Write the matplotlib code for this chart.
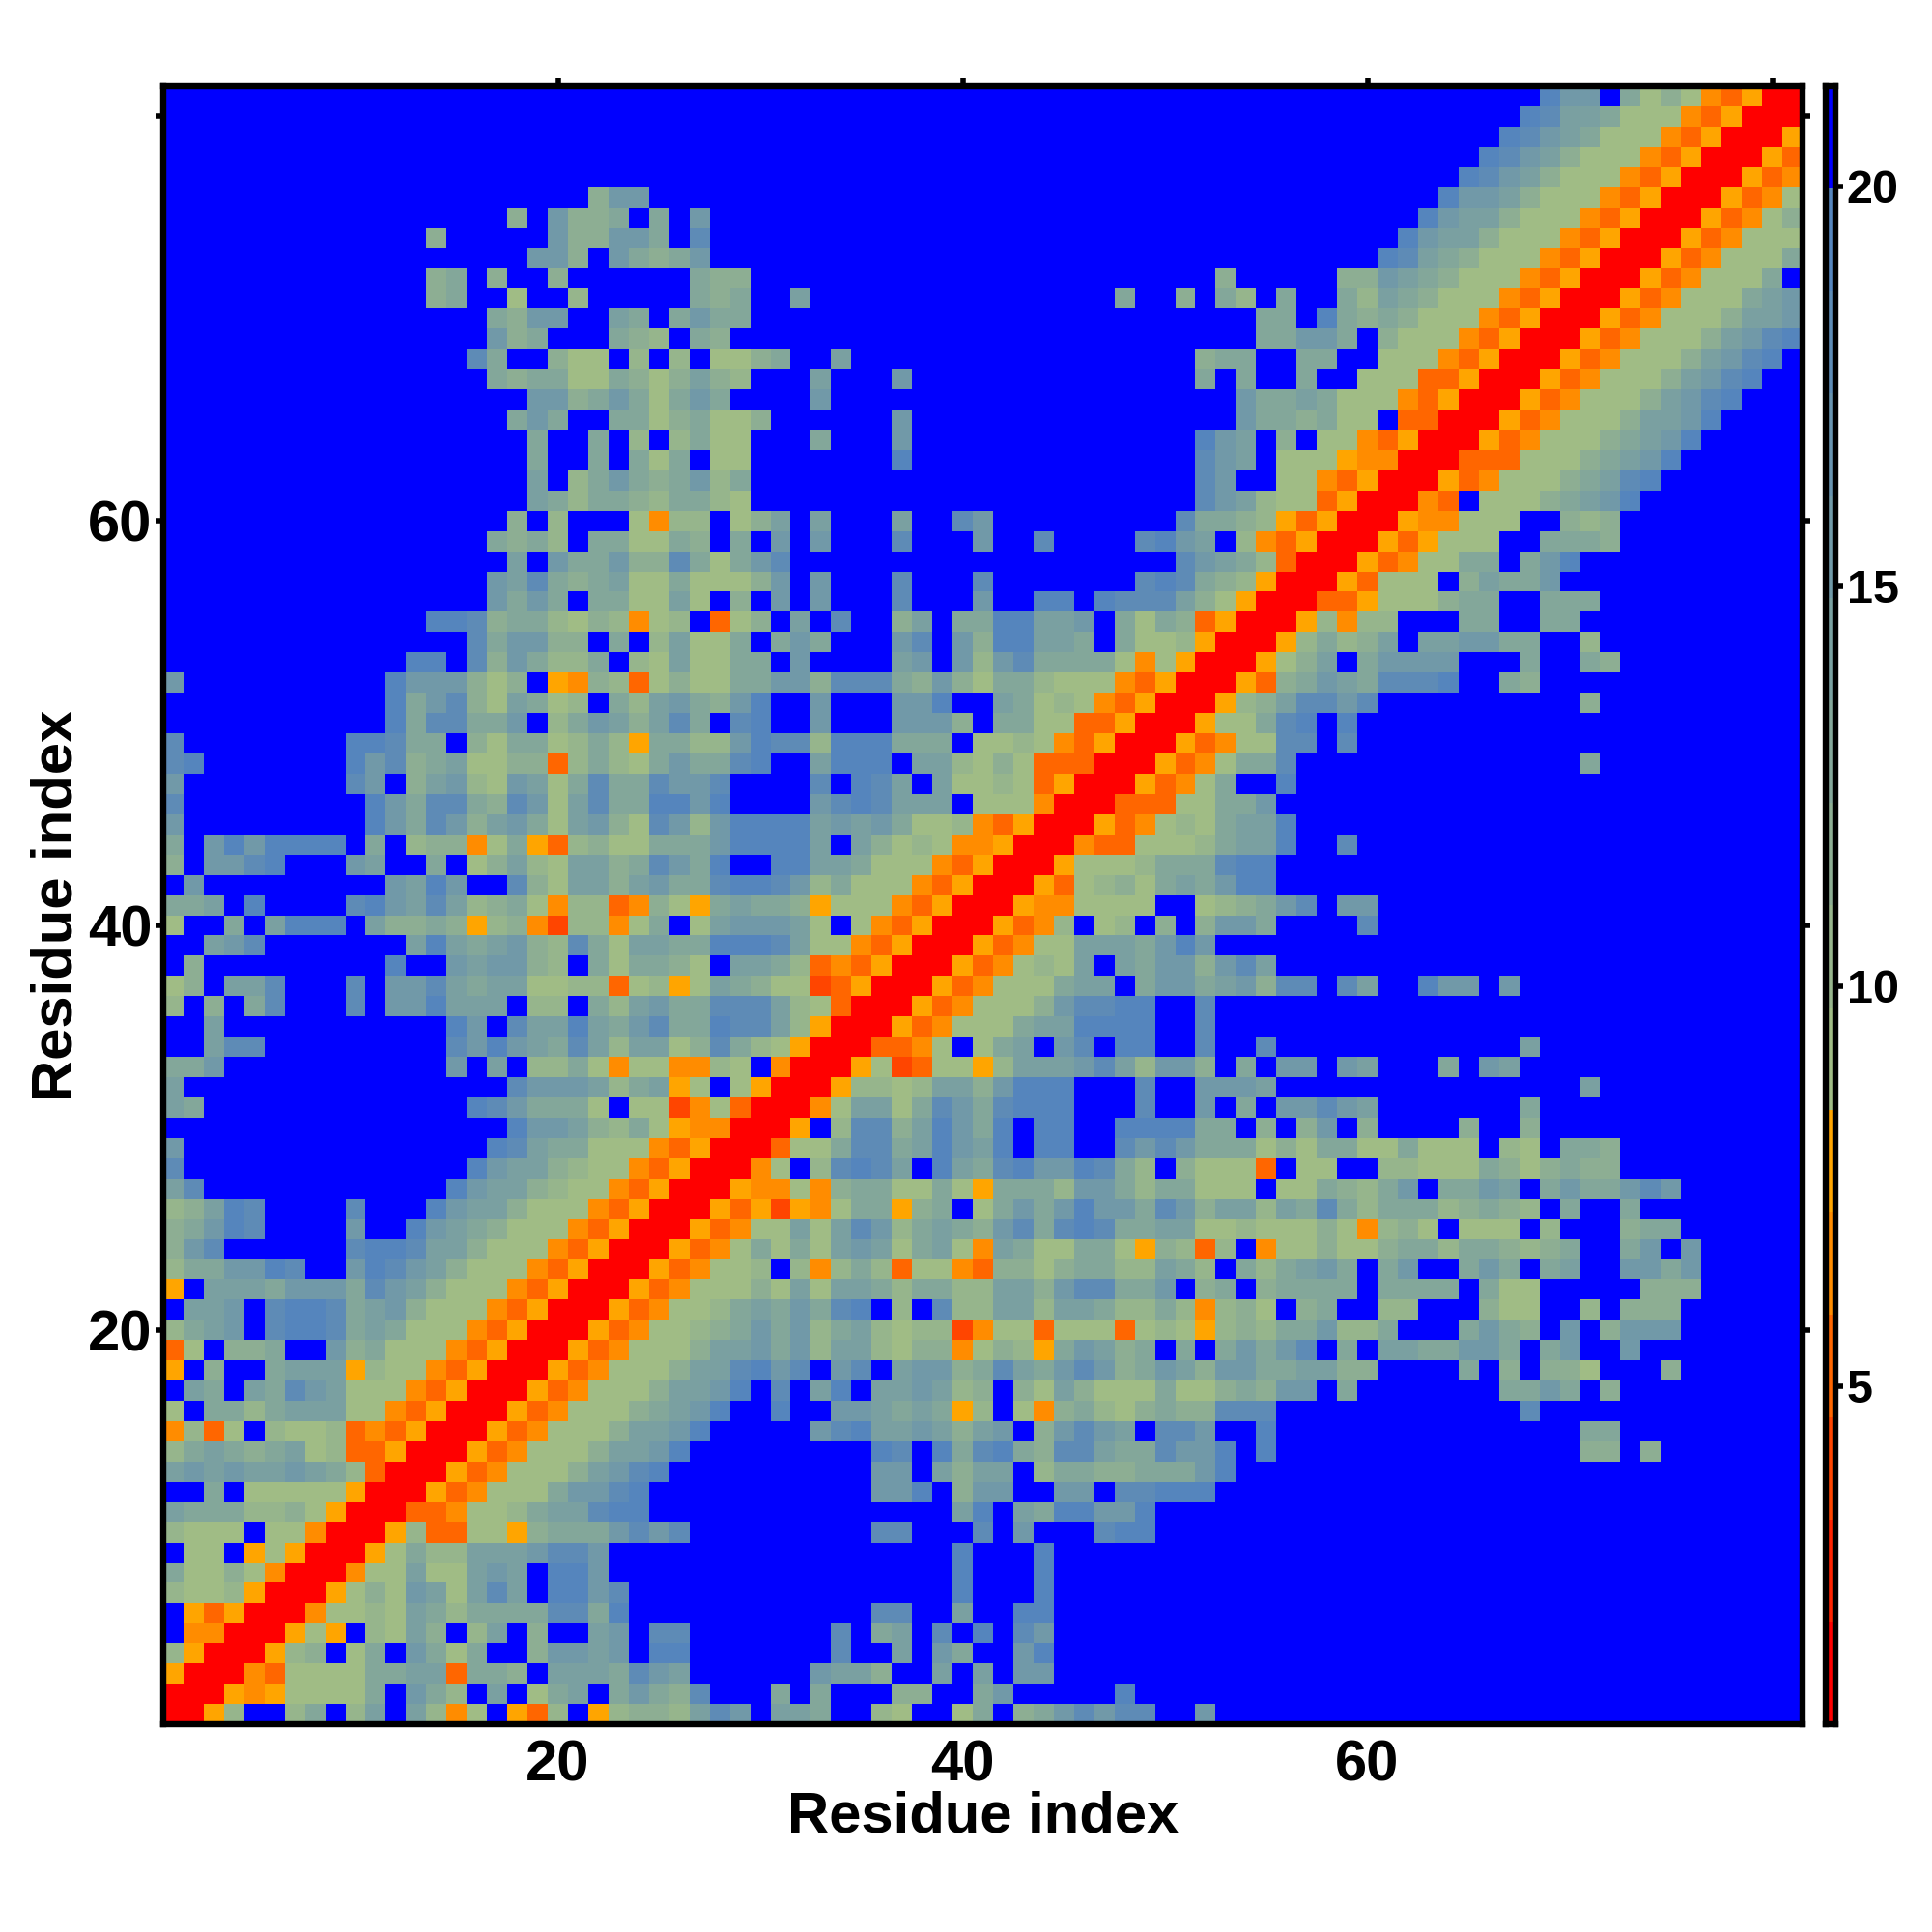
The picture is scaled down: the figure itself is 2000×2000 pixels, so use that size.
import numpy as np
import matplotlib
matplotlib.use("Agg")
import matplotlib.pyplot as plt
from matplotlib.colors import ListedColormap, BoundaryNorm

plt.rcParams['font.family'] = ['Liberation Sans', 'DejaVu Sans']
plt.rcParams['font.weight'] = 'bold'

# level codes, row y=1.. from x=y to the right (matrix is symmetric)
# missing cells at the end of a row are blue
rows = [
 "RRA1BB13B14B41M0BAD1BA12 21465B443BB10BB03B23565 66BB5",
 "RRAMA00003B531B4B034B35 326BBB3B3BBB22BB35BBBBB 7",
 "RRMD00003344D332B44436 54BBBBBB5442BB4B4B55BBB",
 "RRA12B03B5303BB25545B 77BBBBBBB6BB4B53BB57BBB",
 "RRA0AB1042B14B2BB45B 66BBBBBBB6B34B6B7B65BBB",
 "RRM001043133336637B BBBBBBBBBBB66BB4BB77BBB",
 "RRA020540464B7756B BBBBBBBBBBBBBBB7BBB7BBB",
 "RRM00400454B775BB BBBBBBBBBBBBBBB7BBB7BBB",
 "RRA03114445665BB BBBBBBBBBBBBBBB7BBB7BBB",
 "RRA1DD00A233356 56BBBBBBBBB66BBB6B5BBB6 77",
 "RRDDM001344677 BBBBBBBBBBBBBBB47B43775 57",
 "RRADM00035567 BBBBBBBBBBB557B255BB55B 66777",
 "RRADM0002456 7BBBBBBBBBB55B4244B1332 233357",
 "RRADM000244 57BBBBBBBBB76B736732664 336557B7BBBBBBBBBBBBBBB2 2B2",
 "RRADM00024 457BBBBB56744542 45B2565 4B665BB7BBBBBBBBBBBBBBB3 3",
 "RRADM0002 3457BB7BB554343A1B0M231 02322666BBBBBBBBBBBB6BBB",
 "RRADM000 24457B6B47B445412B20420 0030023255B3BBBBBBB3353B 2",
 "RRADM00 02446756B56B45523643565 2354255334422BBBB3B2B220 BBB2",
 "RRADM0 00244535144 1022M021A354 23B3B35356B3B4433553B35B B5",
 "RRADM 00123535134 1011TM00D000 D010A121335113BBB3532B5B 2555",
 "RRAD M0013435367B1B611441443 1131M120B23BB11BBB200BB1 B222",
 "RRA DM000204044313311442566 335B23B23333B3333B300BBB BB222",
 "RR ADM001B1M131D00MD220233 11431B313453B35BB353B34B B5535",
 "RRADM030304540340M430033 0A21D1BM002002331332123B B35B5",
 "RRADM004046513432563676 334400100020M120B000B1BB B233",
 "RRADATAM033A23B0353575 536524414363133312321B3B B3",
 "RRAMM0M2330030A333155 3133000B0032135B3354B353 3565",
 "RRM0B16764B743675576 31B2000DB00BB11000320232 2",
 "RRD00366347547B77BB 656533302033003000B10B33 2",
 "RRAB166247537B77BB 777733B2B25B2BBBB2BB2BBB",
 "RRM044036536777BB B6BB5B3B55654BBBBBBB3BBB",
 "RRA11014425777BB B6BB5554BBBBBBBBBBBBBBB4",
 "RRA0TD00A144456 41552B3B55B54BBB3B54BBBB",
 "RRDDM0B034B56B 77BB6BB6BBBBBBBBBBBB4",
 "RRADM00034477 77BB6",
 "RRADM0002566 77BB6",
 "RRADM000344 B355345266B64BB755B5",
 "RRADM0104B 43552564",
 "RRADM0044 43575",
 "RRADM1B0 1B2B2553BBBB6",
 "RRAMM00 00BB012356B55",
 "RRAD01 20343577",
 "RRA00 01333677",
 "RRMD D00013447BB6",
 "RRA DM0103447",
 "RR DDD00335",
 "R RADM03BB7",
 "RRADM0336BBBBBBBBBBBBBB3",
 "RRADM0066B6",
 "RRA00367B7",
 "RRA1246656BBBBBBBBBB2",
 "RRAD23543666 7BB32",
 "RRA024B35555BBB3BB32",
 "RRA13124B445533BB1",
 "RRA1M11BBB33BB33",
 "RRDDA00023 3BB333",
 "RRAD000B24335B",
 "RRADM0033B357",
 "RRADA000BB3332",
 "RRAMM000BB212",
 "RRMDB00023457",
 "RRADM00023467",
 "RRDDD00023457",
 "RRADM00023457",
 "RRADM00024457",
 "RRADM00024567",
 "RRADM00024567",
 "RRADM00024567",
 "RRADM00024567",
 "RRADM0002445",
 "RRADM000345",
 "RRADM0003B",
 "RRADM0003",
 "RRADM000",
 "RRADM02",
 "RRADM0",
 "RRADM",
 "RRAD",
 "RRA",
 "RR",
 "R",
]

# colour bar levels and break points
at = [0.77 + 1.28 * i for i in range(17)]
warm = ["#FF0000", "#FF2300", "#FF4500", "#FF6600", "#FF8C00", "#FFA500"]
sage = np.array([160, 188, 133]) / 255
steel = np.array([85, 133, 189]) / 255
mid = [tuple(sage + (steel - sage) * i / 8) for i in range(9)]
colors = warm + mid + ["#0000FF"]

band = {"R": 0, "T": 2, "D": 3, "M": 4, "A": 5, "0": 6, "1": 7, "2": 8, "3": 9,
        "4": 10, "5": 11, "6": 13, "7": 14, "B": 15}

n = 81
mat = np.full((n, n), at[15] + 0.6)
for y, row in enumerate(rows):
    row = row.replace(" ", "")
    for i, c in enumerate(row):
        if y + i >= n:
            break
        v = at[band[c]] + 0.64
        mat[y, y + i] = v
        mat[y + i, y] = v

cmap = ListedColormap(colors)
norm = BoundaryNorm(at, cmap.N)

fig = plt.figure(figsize=(10, 10), dpi=200)
ax = fig.add_axes([169 / 2000, 1 - 1785 / 2000, (1866 - 169) / 2000, (1785 - 89) / 2000])
ax.imshow(mat, origin="lower", cmap=cmap, norm=norm, aspect="auto",
          extent=(0.5, 81.5, 0.5, 81.5), interpolation="nearest")

ax.set_xticks([20, 40, 60, 80])
ax.set_xticklabels(["20", "40", "60", ""])
ax.set_yticks([20, 40, 60, 80])
ax.set_yticks([20, 40, 60, 80])
ax.set_yticklabels(["20", "40", "60", ""])
ax.tick_params(axis="x", direction="out", length=3, width=2, labelsize=21.5,
               top=True, pad=2.5)
ax.tick_params(axis="y", direction="out", length=3, width=2, labelsize=21.5,
               right=True, pad=1.2)
for t in ax.xaxis.get_major_ticks():
    t.tick1line.set_markersize(1)
ax.set_xlabel("Residue index", fontsize=21.5, fontweight="bold", labelpad=-0.8)
ax.set_ylabel("Residue index", fontsize=21.5, fontweight="bold", labelpad=1.5)
for s in ax.spines.values():
    s.set_linewidth(2.3)

cax = fig.add_axes([1889.5 / 2000, 1 - 1785 / 2000, 11 / 2000, (1785 - 89) / 2000])
cax.pcolormesh([0, 1], at, np.array(at[:-1]).reshape(-1, 1) + 0.64, cmap=cmap, norm=norm)
cax.set_xticks([])
cax.yaxis.tick_right()
cax.set_yticks([5, 10, 15, 20])
cax.tick_params(axis="y", direction="out", length=3, width=2, labelsize=17.5, pad=1)
for s in cax.spines.values():
    s.set_linewidth(2.3)

fig.savefig("out.png", dpi=200, facecolor="white")
